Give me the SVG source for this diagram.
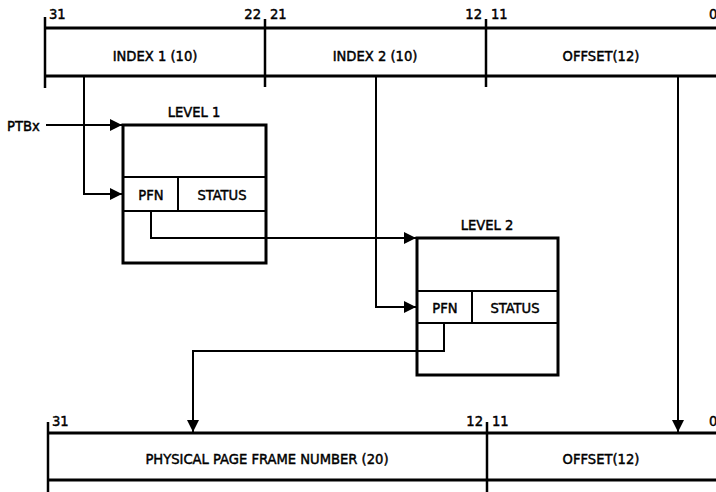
<svg xmlns="http://www.w3.org/2000/svg" width="716" height="492" viewBox="0 0 716 492">
<defs>
<marker id="ah" viewBox="0 0 10 10" refX="10" refY="5" markerWidth="13" markerHeight="12" markerUnits="userSpaceOnUse" orient="auto"><path d="M0,0 L10,5 L0,10 z" fill="#000"/></marker>
</defs>
<style>
text{font-family:"DejaVu Sans Condensed","DejaVu Sans","Liberation Sans",sans-serif;font-size:14.6px;fill:#000;stroke:#000;stroke-width:0.45px;}
.c{text-anchor:middle}
.reg{stroke:#000;stroke-width:3;fill:none}
.tick{stroke:#000;stroke-width:2.5;fill:none}
.box{stroke:#000;stroke-width:3;fill:#fff}
.in{stroke:#000;stroke-width:2;fill:none}
.con{stroke:#000;stroke-width:2;fill:none}
</style>
<rect width="716" height="492" fill="#fff"/>
<g id="virtual-address">
<line class="reg" x1="45" y1="28" x2="716" y2="28"/>
<line class="reg" x1="45" y1="76" x2="716" y2="76"/>
<line class="tick" x1="45" y1="17" x2="45" y2="88"/>
<line class="tick" x1="265" y1="19" x2="265" y2="87"/>
<line class="tick" x1="486" y1="19" x2="486" y2="87"/>
<text x="49" y="19">31</text>
<text x="261" y="19" text-anchor="end">22</text>
<text x="270" y="19">21</text>
<text x="482" y="19" text-anchor="end">12</text>
<text x="491" y="19">11</text>
<text x="709" y="19">0</text>
<text class="c" x="155" y="61">INDEX 1 (10)</text>
<text class="c" x="375" y="61">INDEX 2 (10)</text>
<text class="c" x="601" y="61">OFFSET(12)</text>
</g>
<g id="level1">
<text class="c" x="194" y="117">LEVEL 1</text>
<rect class="box" x="123" y="125" width="143" height="138"/>
<line class="in" x1="123" y1="177" x2="266" y2="177"/>
<line class="in" x1="123" y1="211" x2="266" y2="211"/>
<line class="in" x1="178" y1="177" x2="178" y2="211"/>
<text class="c" x="151" y="200">PFN</text>
<text class="c" x="222" y="200">STATUS</text>
</g>
<g id="level2">
<text class="c" x="487" y="230">LEVEL 2</text>
<rect class="box" x="417" y="238" width="141" height="137"/>
<line class="in" x1="417" y1="291" x2="558" y2="291"/>
<line class="in" x1="417" y1="323" x2="558" y2="323"/>
<line class="in" x1="472" y1="291" x2="472" y2="323"/>
<text class="c" x="445" y="313">PFN</text>
<text class="c" x="515" y="313">STATUS</text>
</g>
<g id="ptbx">
<text x="7" y="131">PTBx</text>
</g>
<g id="physical-address">
<line class="reg" x1="48" y1="433" x2="716" y2="433"/>
<line class="reg" x1="48" y1="480" x2="716" y2="480"/>
<line class="tick" x1="48" y1="422" x2="48" y2="492"/>
<line class="tick" x1="487" y1="422" x2="487" y2="492"/>
<text x="52" y="426">31</text>
<text x="483" y="426" text-anchor="end">12</text>
<text x="492" y="426">11</text>
<text x="709" y="426">0</text>
<text class="c" x="267" y="464">PHYSICAL PAGE FRAME NUMBER (20)</text>
<text class="c" x="601" y="464">OFFSET(12)</text>
</g>
<g id="connectors">
<path class="con" d="M46,125 H122" marker-end="url(#ah)"/>
<path class="con" d="M84,76 V194 H122" marker-end="url(#ah)"/>
<path class="con" d="M151,211 V238 H416" marker-end="url(#ah)"/>
<path class="con" d="M376,76 V307 H416" marker-end="url(#ah)"/>
<path class="con" d="M444,323 V351 H193 V432" marker-end="url(#ah)"/>
<path class="con" d="M678,76 V432" marker-end="url(#ah)"/>
</g>
</svg>
